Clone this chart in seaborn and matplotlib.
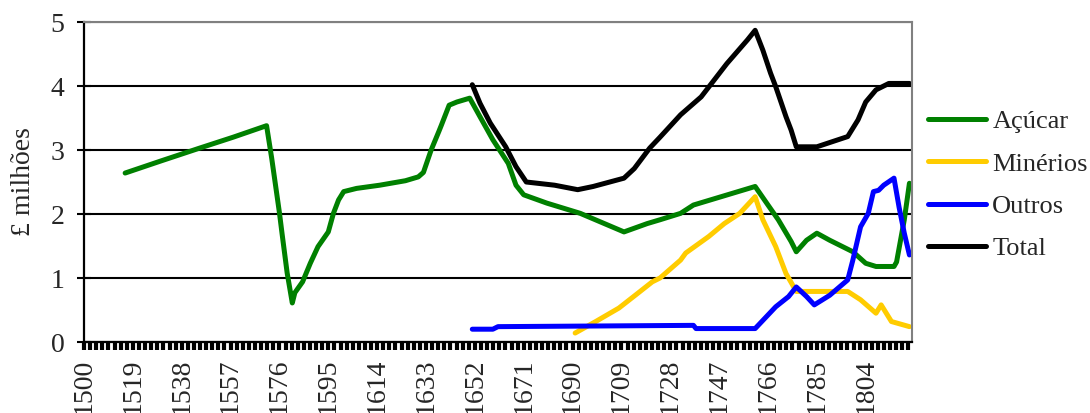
import numpy as np
import pandas as pd
import matplotlib
matplotlib.use("Agg")
import matplotlib.pyplot as plt
from matplotlib.ticker import FixedLocator
import seaborn as sns

# ---- data ----
acucar_anos = [1516, 1530, 1545, 1558, 1571, 1573, 1576, 1577, 1579, 1581, 1582, 1585, 1588,
               1591, 1595, 1597, 1599, 1601, 1606, 1615, 1625, 1630, 1632, 1635, 1638, 1639,
               1642, 1645, 1650, 1654, 1659, 1665, 1668, 1671, 1680, 1693, 1710, 1719, 1724,
               1732, 1737, 1761, 1766, 1770, 1775, 1777, 1781, 1785, 1790, 1799, 1804, 1808,
               1815, 1816, 1819, 1821]
acucar_val = [2.64, 2.83, 3.03, 3.20, 3.38, 2.87, 2.02, 1.70, 1.08, 0.61, 0.77, 0.94, 1.23,
              1.49, 1.72, 2.01, 2.22, 2.35, 2.40, 2.45, 2.52, 2.58, 2.65, 3.00, 3.29, 3.39,
              3.70, 3.75, 3.81, 3.52, 3.16, 2.79, 2.45, 2.30, 2.17, 2.01, 1.72, 1.85, 1.91,
              2.01, 2.14, 2.43, 2.14, 1.91, 1.57, 1.41, 1.59, 1.70, 1.59, 1.41, 1.23, 1.18,
              1.18, 1.25, 1.91, 2.48]

minerios_anos = [1691, 1699, 1708, 1715, 1721, 1724, 1732, 1734, 1743, 1749, 1755, 1761,
                 1764, 1769, 1773, 1777, 1797, 1802, 1808, 1810, 1814, 1821]
minerios_val = [0.14, 0.32, 0.53, 0.75, 0.94, 1.00, 1.28, 1.39, 1.65, 1.85, 2.01, 2.27,
                1.91, 1.49, 1.07, 0.79, 0.79, 0.66, 0.45, 0.58, 0.32, 0.24]

outros_anos = [1651, 1659, 1661, 1737, 1738, 1761, 1769, 1774, 1777, 1781, 1784, 1790,
               1797, 1799, 1802, 1805, 1807, 1809, 1811, 1815, 1817, 1819, 1821]
outros_val = [0.20, 0.20, 0.24, 0.26, 0.21, 0.21, 0.55, 0.71, 0.86, 0.71, 0.58, 0.73,
              0.97, 1.28, 1.80, 2.01, 2.35, 2.37, 2.45, 2.56, 2.10, 1.70, 1.36]

total_anos = [1651, 1654, 1658, 1664, 1668, 1672, 1683, 1692, 1698, 1710, 1714, 1720,
              1724, 1732, 1740, 1750, 1758, 1761, 1764, 1767, 1769, 1773, 1775, 1777,
              1785, 1797, 1801, 1804, 1808, 1813, 1821]
total_val = [4.02, 3.73, 3.42, 3.05, 2.74, 2.50, 2.45, 2.38, 2.43, 2.56, 2.71, 3.03,
             3.20, 3.55, 3.83, 4.35, 4.72, 4.87, 4.56, 4.20, 3.99, 3.52, 3.31, 3.05,
             3.05, 3.21, 3.47, 3.75, 3.94, 4.04, 4.04]

series_nomes = ["Açúcar", "Minérios", "Outros", "Total"]
series_cores = ["#008000", "#FFCC00", "#0000FF", "#000000"]
x_rotulos = [str(a) for a in range(1500, 1805, 19)]
y_rotulos = ["0", "1", "2", "3", "4", "5"]

# ---- style ----
sns.set_style("white")
plt.rcParams["font.family"] = ["Liberation Serif", "DejaVu Serif"]
FS = 20
plt.rcParams["font.size"] = FS

fig = plt.figure(figsize=(10.9, 4.13), dpi=100)
ax = fig.add_axes([84 / 1090, 1 - 342 / 413, (912 - 84) / 1090, 320 / 413])

LW = 3.6
dados = [(acucar_anos, acucar_val), (minerios_anos, minerios_val),
         (outros_anos, outros_val), (total_anos, total_val)]
for (anos, vals), nome, cor in zip(dados, series_nomes, series_cores):
    df = pd.DataFrame({"ano": anos, "valor": vals})
    sns.lineplot(data=df, x="ano", y="valor", ax=ax, color=cor, linewidth=LW,
                 label=nome, estimator=None, sort=True,
                 solid_capstyle="round", solid_joinstyle="round")

ax.set_xlim(1500, 1822)
ax.set_ylim(0, 5)

ax.xaxis.set_major_locator(FixedLocator([int(r) for r in x_rotulos]))
ax.set_xticklabels(x_rotulos, rotation=90)
ax.xaxis.set_minor_locator(FixedLocator(np.arange(1500, 1822, 19 / 8)))
ax.tick_params(axis="x", which="both", direction="out", length=6, width=3.0,
               color="black", bottom=True, pad=6, labelsize=FS)

ax.set_yticks([float(v) for v in y_rotulos])
ax.set_yticklabels(y_rotulos)
ax.tick_params(axis="y", which="major", direction="inout", length=10, width=1.5,
               color="black", left=True, pad=9, labelsize=FS)

ax.yaxis.grid(True, color="black", linewidth=1.5)
ax.xaxis.grid(False)
ax.set_axisbelow(True)

for s in ["left", "bottom"]:
    ax.spines[s].set_color("black")
    ax.spines[s].set_linewidth(1.6)
for s in ["top", "right"]:
    ax.spines[s].set_color("#808080")
    ax.spines[s].set_linewidth(1.5)

ax.set_xlabel("")
ax.set_ylabel("£ milhões", fontsize=FS)
ax.yaxis.set_label_coords(-0.058, 0.5)

leg = ax.legend(loc="center left", bbox_to_anchor=(0.851, 0.552),
                bbox_transform=fig.transFigure, frameon=False, fontsize=19,
                handlelength=2.2, handletextpad=0.25, labelspacing=0.72,
                borderpad=0, borderaxespad=0)
for ln in leg.get_lines():
    ln.set_linewidth(LW)
    ln.set_solid_capstyle("round")

fig.savefig("out.png", dpi=100)
